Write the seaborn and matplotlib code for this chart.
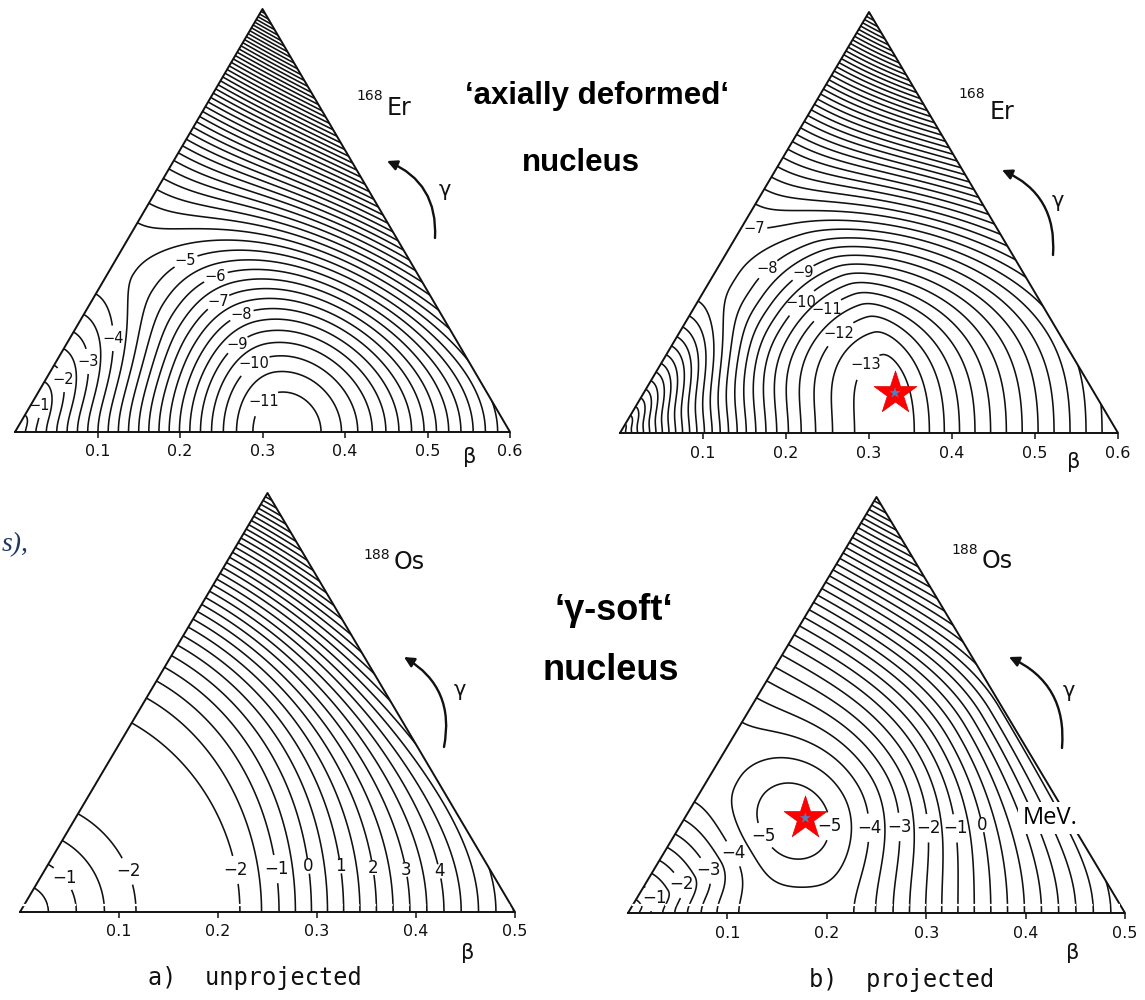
import numpy as np
import matplotlib
matplotlib.use("Agg")
import matplotlib.pyplot as plt
from matplotlib.patches import Polygon, FancyArrowPatch
import seaborn as sns

sns.set_theme(style="white")
plt.rcParams["font.family"] = ["DejaVu Sans"]

W, H = 1145, 1000

# ---------------------------------------------------------------- data
# contour levels (MeV), 0.5 MeV apart
levels = np.arange(-14.0, 40.01, 0.5)

er_beta_max = 0.6
os_beta_max = 0.5
er_ticks = [0.1, 0.2, 0.3, 0.4, 0.5, 0.6]
os_ticks = [0.1, 0.2, 0.3, 0.4, 0.5]

# radial energy profiles: depth D (MeV), position b0 of the minimum,
# left shape (width, inner power, outer power),
# right shape (stiffness, width, inner power, outer power)
er_unproj_prolate = dict(D=11.4, b0=0.325, left=(0.12, 2, 1), right=(31.0, 0.157, 2, 1))
er_unproj_oblate = dict(D=4.35, b0=0.24, left=(0.10, 2, 1), right=(215.0, 1.0, 2.24, 2.24))
er_unproj_gamma_power = 1.0

er_proj_prolate = dict(D=13.4, b0=0.33, left=(0.02, 2, 1.8), right=(25.7, 0.03, 2, 1))
er_proj_oblate = dict(D=7.3, b0=0.24, left=(0.08, 4, 1), right=(175.0, 1.0, 2.2, 2.2))
er_proj_gamma_power = 1.7

os_unproj_prolate = dict(D=2.3, b0=0.175, left=(0.06, 4, 1), right=(27.0, 0.06, 4, 1))
os_unproj_oblate = dict(D=2.3, b0=0.175, left=(0.06, 4, 1), right=(198.6, 0.05, 2, 2.2))
os_unproj_gamma_power = 1.0

os_proj_prolate = dict(D=4.3, b0=0.18, left=(0.08, 6, 1), right=(27.0, 0.06, 4, 1))
os_proj_triaxial = dict(D=5.4, b0=0.19, left=(0.07, 2, 1), right=(72.0, 0.05, 2, 1.5))
os_proj_oblate = dict(D=4.3, b0=0.18, left=(0.06, 4, 1), right=(167.0, 1.0, 2.1, 2.1))

# labelled contours: level and (beta*cos(gamma), beta*sin(gamma)) near the label
er_unproj_label_levels = [-1, -2, -3, -4, -5, -6, -7, -8, -9, -10, -11]
er_unproj_label_xy = [(0.042, 0.036), (0.069, 0.067), (0.091, 0.087), (0.115, 0.115),
                      (0.208, 0.208), (0.240, 0.199), (0.245, 0.162), (0.273, 0.148),
                      (0.264, 0.114), (0.287, 0.087), (0.300, 0.039)]
er_proj_label_levels = [-7, -8, -9, -10, -11, -12, -13]
er_proj_label_xy = [(0.160, 0.200), (0.195, 0.184), (0.227, 0.188), (0.227, 0.152),
                    (0.257, 0.142), (0.269, 0.118), (0.289, 0.090)]
os_unproj_label_levels = [-1, -2, -2, -1, 0, 1, 2, 3, 4]
os_unproj_label_xy = [(0.056, 0.045), (0.116, 0.045), (0.225, 0.045), (0.263, 0.045),
                      (0.291, 0.047), (0.321, 0.047), (0.364, 0.047), (0.406, 0.047),
                      (0.446, 0.047)]
os_proj_label_levels = [-1, -2, -3, -4, -5, -5, -4, -3, -2, -1, 0]
os_proj_label_xy = [(0.034, 0.020), (0.057, 0.031), (0.077, 0.043), (0.100, 0.058),
                    (0.133, 0.078), (0.213, 0.090), (0.259, 0.089), (0.284, 0.090),
                    (0.312, 0.089), (0.336, 0.089), (0.367, 0.094)]

# energy minima marked with a star: (beta, gamma in degrees)
er_star = (0.335, 8.5)
os_star = (0.204, 29.0)

# panel frames in pixels: beta=0 x, beta=max x, base y, apex y
frame_er_unproj = (15, 510, 432, 9)
frame_er_proj = (620, 1118, 433, 12)
frame_os_unproj = (20, 515, 912, 493)
frame_os_proj = (628, 1125, 913, 497)


# ---------------------------------------------------------------- model
def shape(d, w, n, m):
    d = np.abs(d)
    return d ** n / (d ** 2 + w ** 2) ** ((n - m) / 2.0)


def radial(beta, D, b0, left, right):
    wl, nl, ml = left
    kr, wr, nr, mr = right
    d = beta - b0
    vl = -D + D * shape(d, wl, nl, ml) / shape(b0, wl, nl, ml)
    vr = -D + kr * shape(d, wr, nr, mr)
    return np.where(d < 0, vl, vr)


def surface_two(beta, gam, prolate, oblate, k):
    a = radial(beta, **prolate)
    h = radial(beta, **oblate)
    s = (1.0 - np.cos(3.0 * gam)) / 2.0
    return a + (h - a) * s ** k


def surface_three(beta, gam, prolate, triax, oblate):
    a = radial(beta, **prolate)
    m = radial(beta, **triax)
    h = radial(beta, **oblate)
    c = np.cos(3.0 * gam)
    return m + (a - m) * np.clip(c, 0, None) ** 2 + (h - m) * np.clip(-c, 0, None) ** 2


def grid(bmax):
    x = np.linspace(0, bmax, 760)
    y = np.linspace(0, bmax * np.sqrt(3) / 2, 680)
    X, Y = np.meshgrid(x, y)
    return X, Y, np.hypot(X, Y), np.arctan2(Y, X)


fig = plt.figure(figsize=(W / 100, H / 100), dpi=100)
fig.patch.set_facecolor("white")

ink = "#111111"
line_kw = dict(colors=ink, linewidths=1.15, linestyles="solid",
               negative_linestyles="solid", zorder=2)


def label_fmt(v):
    return f"{v:g}".replace("-", "\u2212")


def panel(frame, bmax, ticks, V_func, lab_levels, lab_xy, lab_size, star=None):
    x0, x1, yb, ya = frame
    ax = fig.add_axes([x0 / W, 1 - yb / H, (x1 - x0) / W, (yb - ya) / H])
    top = bmax * np.sqrt(3) / 2
    ax.set_xlim(0, bmax)
    ax.set_ylim(0, top)
    ax.set_facecolor("none")
    X, Y, B, G = grid(bmax)
    V = V_func(B, G)
    tri = Polygon([(0, 0), (bmax, 0), (bmax / 2, top)], closed=True,
                  transform=ax.transData, facecolor="none", edgecolor="none")
    ax.add_patch(tri)

    labelled = sorted(set(float(v) for v in lab_levels))
    plain = [lv for lv in levels if float(lv) not in labelled]
    cs = ax.contour(X, Y, V, levels=plain, **line_kw)
    cs.set_clip_path(tri)
    for lv in labelled:
        pts = [xy for l2, xy in zip(lab_levels, lab_xy) if float(l2) == lv]
        cl = ax.contour(X, Y, V, levels=[lv], **line_kw)
        cl.set_clip_path(tri)
        texts = ax.clabel(cl, manual=pts, inline=True, inline_spacing=2,
                          fontsize=lab_size, colors=ink, fmt=label_fmt)
        for t in texts:
            t.set_rotation(0)

    sns.lineplot(x=[0, bmax, bmax / 2, 0], y=[0, 0, top, 0], sort=False, estimator=None,
                 color=ink, linewidth=1.4, ax=ax, zorder=3)
    for ln in ax.lines:
        ln.set_clip_on(False)
    if star is not None:
        b, gdeg = star
        sx, sy = b * np.cos(np.radians(gdeg)), b * np.sin(np.radians(gdeg))
        ax.scatter([sx], [sy], marker="*", s=1050, color="#ff0000", edgecolor="#e00000",
                   linewidth=0.5, zorder=6, clip_on=False)
        ax.scatter([sx], [sy], marker="*", s=70, color="#4f81bd", edgecolor="none",
                   zorder=7, clip_on=False)
    for s in ax.spines.values():
        s.set_visible(False)
    ax.set_xticks(ticks)
    ax.set_xticklabels([f"{t:g}" for t in ticks])
    ax.set_yticks([])
    ax.tick_params(axis="x", bottom=True, direction="out", length=4, width=1.1,
                   colors=ink, labelsize=11.5, pad=5)
    ax.set_xlabel("")
    ax.set_ylabel("")
    return ax


panel(frame_er_unproj, er_beta_max, er_ticks,
      lambda b, g: surface_two(b, g, er_unproj_prolate, er_unproj_oblate, er_unproj_gamma_power),
      er_unproj_label_levels, er_unproj_label_xy, 10.5)
panel(frame_er_proj, er_beta_max, er_ticks,
      lambda b, g: surface_two(b, g, er_proj_prolate, er_proj_oblate, er_proj_gamma_power),
      er_proj_label_levels, er_proj_label_xy, 10.5, star=er_star)
panel(frame_os_unproj, os_beta_max, os_ticks,
      lambda b, g: surface_two(b, g, os_unproj_prolate, os_unproj_oblate, os_unproj_gamma_power),
      os_unproj_label_levels, os_unproj_label_xy, 12)
panel(frame_os_proj, os_beta_max, os_ticks,
      lambda b, g: surface_three(b, g, os_proj_prolate, os_proj_triaxial, os_proj_oblate),
      os_proj_label_levels, os_proj_label_xy, 12, star=os_star)

# ---------------------------------------------------------------- annotations (pixel space)
ov = fig.add_axes([0, 0, 1, 1], zorder=10)
ov.set_xlim(0, W)
ov.set_ylim(H, 0)
ov.set_axis_off()

for (mx, my), (ex, ey), sym in [((356, 100), (387, 115), "Er"), ((958, 98), (990, 119), "Er"),
                                ((363, 559), (394, 569), "Os"), ((951, 554), (982, 568), "Os")]:
    mass = "168" if sym == "Er" else "188"
    ov.text(mx, my, mass, fontsize=10, color=ink, ha="left", va="baseline")
    ov.text(ex, ey, sym, fontsize=17, color=ink, ha="left", va="baseline")

for (ax_, ay_), (bx_, by_), (gx, gy) in [((435, 238), (387, 161), (445, 190)),
                                         ((1053, 255), (1002, 170), (1058, 201)),
                                         ((444, 747), (404, 657), (460, 690)),
                                         ((1062, 748), (1009, 657), (1069, 691))]:
    arr = FancyArrowPatch((ax_, ay_), (bx_, by_), arrowstyle="-|>", mutation_scale=15,
                          lw=1.7, color=ink, connectionstyle="arc3,rad=0.35",
                          shrinkA=0, shrinkB=0, transform=ov.transData)
    ov.add_patch(arr)
    ov.text(gx, gy, "\u03b3", fontsize=15, color=ink, ha="center", va="center")

for bx, by in [(470, 457), (1074, 462), (468, 953), (1073, 953)]:
    ov.text(bx, by, "\u03b2", fontsize=15, color=ink, ha="center", va="center")

bold = dict(fontfamily="Liberation Sans", fontweight="bold", color="black",
            ha="center", va="center")
ov.text(597, 96, "\u2018axially deformed\u2018", fontsize=22.5, **bold)
ov.text(581, 163, "nucleus", fontsize=22.5, **bold)
ov.text(614, 610, "\u2018\u03b3-soft\u2018", fontsize=26, **bold)
ov.text(611, 671, "nucleus", fontsize=26, **bold)

ov.text(1050, 818, "MeV.", fontsize=17, fontfamily="Open Sans", color="black",
        ha="center", va="center",
        bbox=dict(facecolor="white", edgecolor="none", pad=3))

ov.text(255, 978, "a)  unprojected", fontsize=17, fontfamily="DejaVu Sans Mono",
        color=ink, ha="center", va="center")
ov.text(902, 980, "b)  projected", fontsize=17, fontfamily="DejaVu Sans Mono",
        color=ink, ha="center", va="center")

ov.text(2, 545, "s),", fontsize=20, fontfamily="Liberation Serif", fontstyle="italic",
        color="#1f3864", ha="left", va="center")

ov.plot([15, 1120], [905, 905], color="white", lw=1.6, dashes=(5, 2.5), zorder=11)

fig.savefig("out.png", dpi=100, facecolor="white")
